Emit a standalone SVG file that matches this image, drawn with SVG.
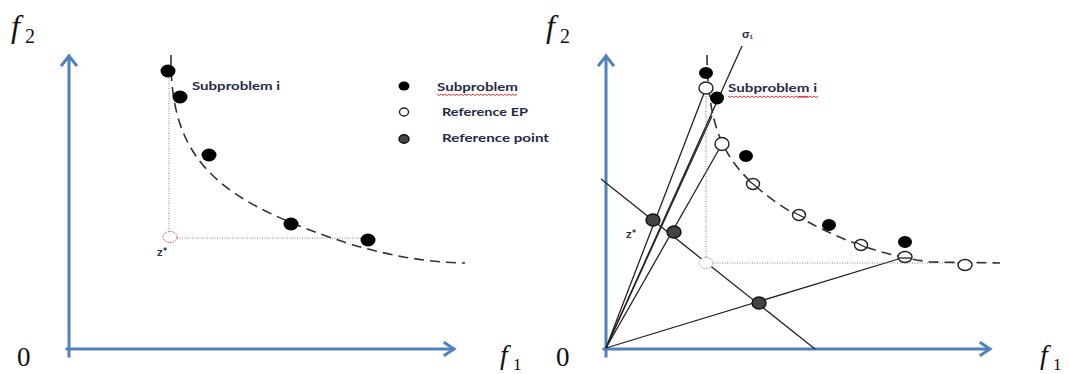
<svg xmlns="http://www.w3.org/2000/svg" width="1069" height="374" viewBox="0 0 1069 374">
<style>
.axis{stroke:#4F81BD;stroke-width:3;fill:none;stroke-linecap:square}
.curve{stroke:#333;stroke-width:1.6;fill:none;stroke-dasharray:10 6}
.dot{stroke:#888;stroke-width:1;fill:none;stroke-dasharray:1 1.5}
.ray{stroke:#222;stroke-width:1.3;fill:none}
.sub{fill:#000}
.ep{fill:#fff;stroke:#222;stroke-width:1.4}
.epx{fill:#fff;stroke:#222;stroke-width:1.4}
.ref{fill:#444;stroke:#111;stroke-width:1.4}
.lbl{font-family:Lato,"Liberation Sans",sans-serif;font-weight:bold;font-size:12px;fill:#1F2A4A}
.math{font-family:"Liberation Serif","DejaVu Serif",serif;fill:#111}
.wavy{fill:none;stroke:#E02020;stroke-width:0.9}
.slash{stroke:#222;stroke-width:1.3}
</style>
<defs>
<path id="wv" d="M0,0 l2,1.5 l2,-1.5 l2,1.5 l2,-1.5 l2,1.5 l2,-1.5 l2,1.5 l2,-1.5 l2,1.5 l2,-1.5"/>
</defs>

<!-- LEFT PANEL -->
<g id="left-axes">
<line class="axis" x1="69" y1="356" x2="69" y2="57"/>
<polyline class="axis" points="62,65 69,56 76,65" stroke-linecap="round"/>
<line class="axis" x1="67" y1="349" x2="453" y2="349"/>
<polyline class="axis" points="445,343 454,349 445,355" stroke-linecap="round"/>
<text class="math" x="11" y="37" font-size="32" font-style="italic">f</text>
<text class="math" x="25" y="43" font-size="20">2</text>
<text class="math" x="17" y="366" font-size="27">0</text>
<text class="math" x="500" y="364" font-size="28" font-style="italic">f</text>
<text class="math" x="513" y="370" font-size="17">1</text>
</g>
<g id="left-guides">
<line class="dot" x1="169" y1="78" x2="169" y2="231"/>
<line class="dot" x1="177" y1="238" x2="361" y2="238"/>
<ellipse cx="170" cy="237" rx="7" ry="5.5" fill="none" stroke="#E04040" stroke-width="1" stroke-dasharray="1.5 1.2"/>
<text class="lbl" x="157" y="256" font-size="9">z*</text>
</g>
<g id="left-front">
<path class="curve" d="M171,55 C170,140 200,185 290,222 C340,243 400,262 465,263"/>
</g>
<g id="left-points">
<ellipse class="sub" cx="168" cy="71" rx="7.5" ry="6.5"/>
<ellipse class="sub" cx="180" cy="97" rx="7.5" ry="6.5"/>
<ellipse class="sub" cx="209" cy="155" rx="7.5" ry="6.5"/>
<ellipse class="sub" cx="291" cy="224" rx="7.5" ry="6.5"/>
<ellipse class="sub" cx="368" cy="240" rx="7.5" ry="6.5"/>
<text class="lbl" x="192" y="90" textLength="88" lengthAdjust="spacingAndGlyphs">Subproblem i</text>
</g>
<g id="legend">
<ellipse class="sub" cx="404" cy="86" rx="5.5" ry="4.5"/>
<ellipse class="ep" cx="404" cy="112" rx="4.5" ry="4"/>
<ellipse class="ref" cx="404" cy="139" rx="5" ry="4.2"/>
<text class="lbl" x="437" y="91" textLength="81" lengthAdjust="spacingAndGlyphs">Subproblem</text>
<use href="#wv" x="437" y="94" class="wavy"/>
<use href="#wv" x="457" y="94" class="wavy"/>
<use href="#wv" x="477" y="94" class="wavy"/>
<use href="#wv" x="497" y="94" class="wavy"/>
<text class="lbl" x="442" y="116" textLength="86" lengthAdjust="spacingAndGlyphs">Reference EP</text>
<text class="lbl" x="442" y="142" textLength="107" lengthAdjust="spacingAndGlyphs">Reference point</text>
</g>

<!-- RIGHT PANEL -->
<g id="right-axes">
<line class="axis" x1="606" y1="356" x2="606" y2="57"/>
<polyline class="axis" points="599,65 606,56 613,65" stroke-linecap="round"/>
<line class="axis" x1="604" y1="349" x2="989" y2="349"/>
<polyline class="axis" points="981,343 990,349 981,355" stroke-linecap="round"/>
<text class="math" x="546" y="37" font-size="32" font-style="italic">f</text>
<text class="math" x="560" y="43" font-size="20">2</text>
<text class="math" x="556" y="366" font-size="27">0</text>
<text class="math" x="1040" y="364" font-size="28" font-style="italic">f</text>
<text class="math" x="1053" y="370" font-size="17">1</text>
</g>
<g id="connectors">
<line class="ray" x1="606" y1="348" x2="706" y2="88"/>
<line class="ray" x1="606" y1="348" x2="742" y2="46"/>
<line class="ray" x1="606" y1="348" x2="712" y2="116"/>
<line class="ray" x1="606" y1="348" x2="722" y2="144"/>
<line class="ray" x1="606" y1="348" x2="905" y2="257"/>
<line class="ray" x1="601" y1="179" x2="815" y2="349"/>
<line class="dot" x1="706" y1="96" x2="706" y2="257"/>
<line class="dot" x1="712" y1="263" x2="958" y2="263"/>
</g>
<g id="right-front">
<path class="curve" d="M707,55 C708,140 730,170 780,205 C830,238 880,255 930,262 L1000,263"/>
</g>
<g id="right-points">
<ellipse class="sub" cx="706" cy="73" rx="7" ry="6"/>
<ellipse class="ep" cx="706" cy="88" rx="7" ry="6"/>
<ellipse class="sub" cx="717" cy="98" rx="7" ry="6.5"/>
<ellipse class="ep" cx="722" cy="144" rx="7" ry="6.5"/>
<ellipse class="sub" cx="746" cy="156" rx="7" ry="6"/>
<ellipse class="epx" cx="753" cy="184" rx="6.5" ry="5.5"/>
<line class="slash" x1="748" y1="180" x2="758" y2="188"/>
<ellipse class="epx" cx="799" cy="215" rx="6.5" ry="5.5"/>
<line class="slash" x1="793" y1="212" x2="805" y2="218"/>
<ellipse class="sub" cx="829" cy="225" rx="7" ry="6"/>
<ellipse class="epx" cx="861" cy="245" rx="6.5" ry="5.5"/>
<line class="slash" x1="855" y1="242" x2="867" y2="248"/>
<ellipse class="sub" cx="905" cy="242" rx="7" ry="6"/>
<ellipse class="ep" cx="905" cy="257" rx="7" ry="5.5"/>
<line class="slash" x1="898" y1="258" x2="912" y2="258"/>
<ellipse class="ep" cx="965" cy="265" rx="7" ry="5.5"/>
<ellipse cx="706" cy="263" rx="7" ry="5.5" fill="#fff" stroke="#999" stroke-width="1" stroke-dasharray="1.5 1.2"/>
<ellipse class="ref" cx="653" cy="220" rx="7" ry="6" stroke="#E02020" stroke-width="1.8"/>
<ellipse class="ref" cx="674" cy="232" rx="7" ry="6"/>
<ellipse class="ref" cx="759" cy="303" rx="7" ry="6"/>
<text class="lbl" x="626" y="238" font-size="9">z*</text>
<text class="lbl" x="742" y="38" font-size="9">σ<tspan font-size="6" dy="1">1</tspan></text>
<text class="lbl" x="728" y="92" textLength="89" lengthAdjust="spacingAndGlyphs">Subproblem i</text>
<use href="#wv" x="728" y="96" class="wavy"/>
<use href="#wv" x="748" y="96" class="wavy"/>
<use href="#wv" x="768" y="96" class="wavy"/>
<use href="#wv" x="788" y="96" class="wavy"/>
<use href="#wv" x="798" y="96" class="wavy"/>
</g>
</svg>
